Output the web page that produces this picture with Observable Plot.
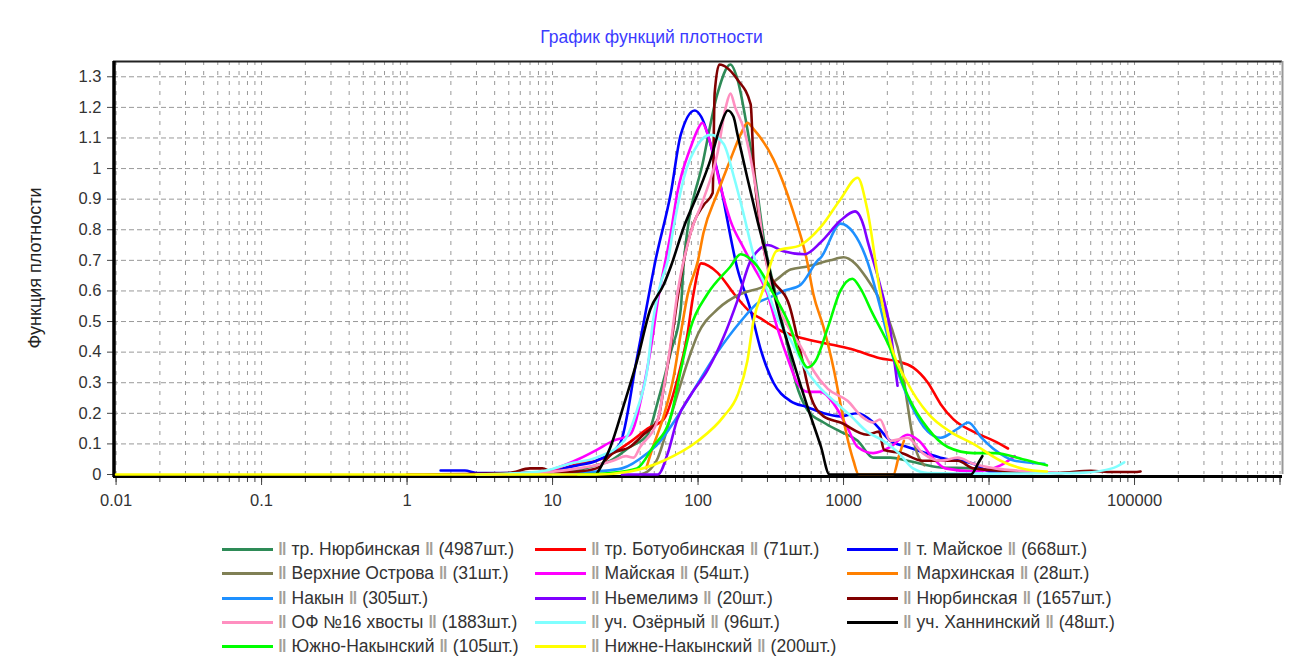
<!DOCTYPE html>
<html><head><meta charset="utf-8">
<script src="https://cdn.jsdelivr.net/npm/d3@7"></script>
<script src="https://cdn.jsdelivr.net/npm/@observablehq/plot@0.6"></script>
<style>
body{margin:0;background:#fff;font-family:"Liberation Sans",Arial,sans-serif;}
#wrap{position:relative;width:1295px;height:656px;overflow:hidden;}
#title{position:absolute;left:0;top:26px;width:1303px;text-align:center;color:#3b3bff;font-size:17.5px;line-height:22px;}
#chart{position:absolute;left:0;top:50px;}
#legend{position:absolute;left:0;top:520px;width:1295px;height:136px;}
.item{position:absolute;height:22px;line-height:22px;font-size:17.5px;color:#333;white-space:nowrap;}
.sw{position:absolute;left:0;top:10px;width:51px;height:3px;}
.tx{position:absolute;left:56px;top:0;}
.bar{color:#a39f98;font-weight:bold;}
</style></head><body>
<div id="wrap">
  <div id="title">График функций плотности</div>
  <div id="chart"></div>
  <div id="legend"></div>
</div>
<script>
// ---- series meta ----
const seriesNames = ["тр. Нюрбинская","тр. Ботуобинская","т. Майское","Верхние Острова","Майская","Мархинская","Накын","Ньемелимэ","Нюрбинская","ОФ №16 хвосты","уч. Озёрный","уч. Ханнинский","Южно-Накынский","Нижне-Накынский"];
const seriesCounts = ["4987шт.","71шт.","668шт.","31шт.","54шт.","28шт.","305шт.","20шт.","1657шт.","1883шт.","96шт.","48шт.","105шт.","200шт."];
const seriesColors = ["#2e8b57","#ff0000","#0000ff","#808055","#ff00ff","#ff8000","#1e90ff","#8000ff","#800000","#ff8fc0","#80ffff","#000000","#00ff00","#ffff00"];

// ---- density values [particle size, density] ----
const trNyurbinskaya = [[5,0],[10,0.005],[15,0.015],[20,0.03],[25,0.045],[34,0.09],[45,0.13],[53,0.24],[65,0.40],[76,0.54],[80,0.70],[109,1.03],[136,1.245],[167,1.34],[187,1.29],[218,1.13],[256,0.92],[283,0.77],[330,0.62],[400,0.45],[470,0.30],[566,0.21],[730,0.17],[953,0.14],[1250,0.11],[1600,0.055],[2100,0.055],[2750,0.045],[4645,0.023],[7800,0.02],[12000,0.01],[20000,0.005]];
const trBotuobinskaya = [[3,0],[6,0.005],[9,0.01],[12,0.02],[15,0.035],[20,0.045],[26,0.07],[35,0.11],[45,0.15],[58,0.18],[72,0.31],[84,0.45],[93,0.59],[105,0.69],[136,0.66],[177,0.59],[230,0.53],[269,0.51],[370,0.47],[480,0.45],[730,0.43],[1130,0.41],[1780,0.38],[2330,0.37],[3000,0.35],[3800,0.30],[4650,0.23],[5700,0.18],[7800,0.14],[10800,0.11],[13500,0.085]];
const tMayskoe = [[1.7,0.013],[2.5,0.013],[3,0.005],[10,0.005],[12,0.02],[15,0.03],[20,0.045],[29,0.1],[38,0.38],[44,0.54],[51,0.70],[65,0.92],[76,1.11],[95,1.19],[105,1.17],[136,0.99],[187,0.67],[229,0.54],[269,0.41],[330,0.30],[432,0.24],[566,0.22],[729,0.20],[953,0.19],[1248,0.20],[1606,0.17],[2104,0.11],[2754,0.09],[4645,0.055],[7816,0.035],[10000,0.01],[12000,0.005]];
const verkhnieOstrova = [[40,0],[45,0.01],[53,0.055],[58,0.11],[65,0.19],[72,0.26],[85,0.37],[100,0.46],[136,0.54],[196,0.59],[269,0.61],[330,0.63],[432,0.67],[566,0.68],[810,0.70],[1000,0.71],[1200,0.69],[1450,0.64],[1780,0.57],[2100,0.49],[2500,0.36],[2750,0.23],[2970,0.13],[3200,0.07],[3600,0.03]];
const mayskaya = [[8,0.005],[9,0.01],[12,0.03],[15,0.05],[20,0.08],[26,0.11],[34,0.13],[42,0.28],[48,0.43],[53,0.57],[65,0.79],[72,0.92],[89,1.07],[100,1.13],[107,1.15],[115,1.12],[122,1.08],[143,0.94],[167,0.83],[206,0.74],[240,0.68],[300,0.59],[350,0.48],[420,0.37],[480,0.30],[566,0.27],[700,0.27],[860,0.23],[1070,0.15],[1250,0.09],[1600,0.07],[2100,0.09],[2750,0.13],[3300,0.11],[4100,0.055],[5000,0.02],[8000,0.01],[12000,0.03],[15000,0.06]];
const markhinskaya = [[44,0.02],[49,0.09],[58,0.19],[68,0.32],[76,0.46],[85,0.59],[100,0.70],[109,0.79],[136,0.92],[167,1.03],[200,1.12],[218,1.15],[240,1.13],[330,1.03],[450,0.86],[560,0.70],[620,0.59],[730,0.48],[860,0.34],[953,0.23],[1050,0.13],[1170,0.045],[1270,0],[2200,0],[2400,0.06],[2600,0.11]];
const nakyn = [[10,0],[20,0.01],[30,0.02],[45,0.07],[53,0.10],[70,0.18],[89,0.26],[136,0.40],[196,0.50],[256,0.56],[315,0.58],[386,0.60],[506,0.62],[665,0.70],[700,0.71],[953,0.82],[1170,0.79],[1450,0.70],[1780,0.55],[2200,0.38],[2900,0.23],[3800,0.14],[4645,0.12],[6100,0.15],[7200,0.17],[8900,0.12],[11000,0.08],[15000,0.045],[24000,0.035]];
const nemelime = [[30,0],[53,0],[62,0.07],[72,0.18],[89,0.26],[116,0.34],[150,0.45],[187,0.57],[230,0.70],[256,0.73],[300,0.75],[386,0.73],[540,0.72],[700,0.76],[953,0.83],[1200,0.86],[1380,0.81],[1450,0.77],[1780,0.62],[2100,0.47],[2250,0.36],[2350,0.29]];
const nyurbinskaya = [[1,0],[5,0.005],[7,0.02],[8.5,0.02],[10,0.008],[15,0.01],[20,0.02],[26,0.07],[34,0.09],[42,0.13],[53,0.18],[58,0.28],[65,0.42],[72,0.57],[80,0.70],[93,0.82],[109,0.88],[126,0.92],[130,1.245],[140,1.34],[187,1.29],[230,1.21],[240,1.03],[269,0.81],[300,0.68],[432,0.54],[506,0.40],[590,0.26],[730,0.19],[953,0.17],[1450,0.13],[1750,0.14],[1900,0.08],[2500,0.07],[3500,0.045],[6100,0.045],[7800,0.02],[15000,0.01],[30000,0.005],[50000,0.012],[70000,0.008],[100000,0.008],[110000,0.01]];
const of16Tails = [[3,0],[8,0.005],[15,0.02],[20,0.03],[26,0.045],[32,0.06],[36,0.055],[40,0.09],[53,0.18],[58,0.28],[65,0.43],[72,0.59],[89,0.79],[109,0.9],[136,1.05],[155,1.2],[167,1.245],[180,1.2],[206,1.13],[256,0.9],[283,0.74],[330,0.59],[420,0.48],[506,0.42],[560,0.38],[620,0.34],[780,0.28],[1070,0.24],[1330,0.19],[1600,0.17],[1780,0.18],[2100,0.11],[2750,0.12],[3500,0.07],[4650,0.045],[6100,0.055],[7800,0.035],[11000,0.02],[20000,0.01],[30000,0.005]];
const uchOzerny = [[3,0],[6,0.005],[9,0.013],[13,0.035],[20,0.055],[31,0.11],[38,0.21],[45,0.35],[49,0.50],[55,0.62],[62,0.70],[68,0.81],[80,0.97],[100,1.08],[122,1.11],[150,1.08],[177,0.97],[206,0.85],[240,0.72],[300,0.6],[360,0.5],[432,0.44],[540,0.35],[700,0.28],[860,0.24],[1130,0.19],[1450,0.14],[1880,0.11],[2400,0.07],[3000,0.02],[3800,0.005],[10000,0.003],[30000,0.004],[45000,0.006],[70000,0.02],[85000,0.04]];
const uchKhanninsky = [[20,0],[25,0.09],[31,0.23],[38,0.37],[47,0.54],[58,0.62],[65,0.68],[80,0.81],[100,0.92],[122,1.03],[145,1.15],[160,1.19],[175,1.17],[187,1.11],[218,0.97],[256,0.83],[300,0.70],[350,0.55],[432,0.40],[566,0.22],[700,0.09],[800,0],[7500,0],[8500,0.04],[9000,0.06]];
const yuzhnoNakynsky = [[15,0],[25,0.005],[38,0.02],[49,0.09],[65,0.19],[76,0.34],[89,0.48],[116,0.59],[167,0.68],[196,0.72],[256,0.68],[330,0.59],[432,0.48],[500,0.39],[566,0.35],[640,0.37],[780,0.48],[950,0.60],[1150,0.64],[1300,0.61],[1570,0.53],[2100,0.41],[2750,0.26],[3800,0.15],[5200,0.09],[7800,0.07],[11000,0.07],[17000,0.05],[25000,0.03]];
const nizhneNakynsky = [[0.01,0],[20,0],[34,0.01],[58,0.045],[100,0.11],[150,0.19],[187,0.26],[218,0.37],[240,0.50],[283,0.61],[345,0.73],[506,0.75],[700,0.81],[953,0.90],[1250,0.97],[1450,0.87],[1780,0.60],[2100,0.43],[2750,0.30],[3800,0.20],[5400,0.14],[7800,0.10],[12000,0.045],[20000,0.013],[25000,0.01]];

const seriesData = [trNyurbinskaya,trBotuobinskaya,tMayskoe,verkhnieOstrova,mayskaya,markhinskaya,nakyn,nemelime,nyurbinskaya,of16Tails,uchOzerny,uchKhanninsky,yuzhnoNakynsky,nizhneNakynsky];

// ---- axes ----
const xTickValues = [0.01,0.1,1,10,100,1000,10000,100000];
const xTickLabels = ["0.01","0.1","1","10","100","1000","10000","100000"];
const yTickValues = [0,0.1,0.2,0.3,0.4,0.5,0.6,0.7,0.8,0.9,1,1.1,1.2,1.3];
const yTickLabels = ["0","0.1","0.2","0.3","0.4","0.5","0.6","0.7","0.8","0.9","1","1.1","1.2","1.3"];

const xDomain = [0.0096, 1.04e6];
const yDomain = [0, 1.35];
const mL = 113, mR = 13, mT = 11, mB = 46, W = 1295, H = 470;
const pxY = (yDomain[1]-yDomain[0])/(H-mT-mB);
const decPx = (W-mL-mR)/Math.log10(xDomain[1]/xDomain[0]);
const xAtPx = d => xDomain[0]*Math.pow(10, d/decPx);

const xMinor = [];
for (let e=-2; e<=5; e++) for (let k=1;k<=9;k++) xMinor.push(k*Math.pow(10,e));
xMinor.push(1e6);
const xMajor = xMinor.filter((v,i)=>i%9===0);
const yGrid = yTickValues.filter(v=>v>0);

const rows = seriesData.flatMap((pts,i)=>pts.map(([x,y])=>({x,y,s:seriesNames[i]})));

const lineMarks = seriesNames.map((n,i)=>Plot.line(rows.filter(r=>r.s===n),{x:"x",y:"y",stroke:seriesColors[i],strokeWidth:2.6,curve:"monotone-x"}));

const chart = Plot.plot({
  width: W, height: H,
  marginLeft: mL, marginRight: mR, marginTop: mT, marginBottom: mB,
  x: {type:"log", domain:xDomain, axis:null},
  y: {domain:yDomain, axis:null},
  style: {fontFamily:"'Liberation Sans', Arial, sans-serif", fontSize:"16.5px", color:"#333", background:"#fff", overflow:"visible"},
  marks: [
    Plot.ruleY(yGrid, {y:d=>d, stroke:"#999", strokeDasharray:"5,3", strokeWidth:1}),
    Plot.ruleX(xMinor, {x:d=>d, stroke:"#999", strokeDasharray:"4,6", strokeWidth:1}),
    Plot.ruleY([yDomain[1]], {y:d=>d, stroke:"#222", strokeWidth:2}),
    Plot.ruleX([xDomain[1]], {x:d=>d, stroke:"#999", strokeWidth:2}),
    // x ticks below axis
    Plot.ruleX(xMinor, {x:d=>d, y1:-3*pxY, y2:-8*pxY, stroke:"#444", strokeWidth:1}),
    Plot.ruleX(xMajor, {x:d=>d, y1:-3*pxY, y2:-11*pxY, stroke:"#444", strokeWidth:1}),
    // y ticks left of axis
    Plot.ruleY(yTickValues, {y:d=>d, x1:xAtPx(-6), x2:xAtPx(0), stroke:"#444", strokeWidth:1}),
    // axis lines
    Plot.ruleY([0], {y:d=>d, dy:2, stroke:"#000", strokeWidth:3}),
    Plot.ruleX([xDomain[0]], {x:d=>d, y1:-3*pxY, y2:yDomain[1], dx:0.5, stroke:"#000", strokeWidth:3.5}),
    ...lineMarks,
    Plot.text(xTickValues, {x:d=>d, y:()=>0, text:(d,i)=>xTickLabels[i], dy:26, fill:"#333", fontSize:16.5}),
    Plot.text(yTickValues, {x:()=>xDomain[0], y:d=>d, text:(d,i)=>yTickLabels[i], dx:-12, textAnchor:"end", fill:"#333", fontSize:16.5}),
    Plot.text(["Функция плотности"], {frameAnchor:"left", textAnchor:"middle", rotate:-90, dx:-78, fill:"#222", fontSize:18})
  ]
});
document.getElementById("chart").appendChild(chart);

// ---- legend ----
const legendCols = [222, 535, 847];
const legendRowTop = 29, legendRowStep = 24.3;
const leg = document.getElementById("legend");
seriesNames.forEach((n,i)=>{
  const col = i%3, row = Math.floor(i/3);
  const it = document.createElement("div");
  it.className = "item";
  it.style.left = legendCols[col]+"px";
  it.style.top = (legendRowTop + row*legendRowStep - 11)+"px";
  it.innerHTML = `<div class="sw" style="background:${seriesColors[i]}"></div><span class="tx"><span class="bar">‖</span> ${n} <span class="bar">‖</span> (${seriesCounts[i]})</span>`;
  leg.appendChild(it);
});
</script>
</body></html>
